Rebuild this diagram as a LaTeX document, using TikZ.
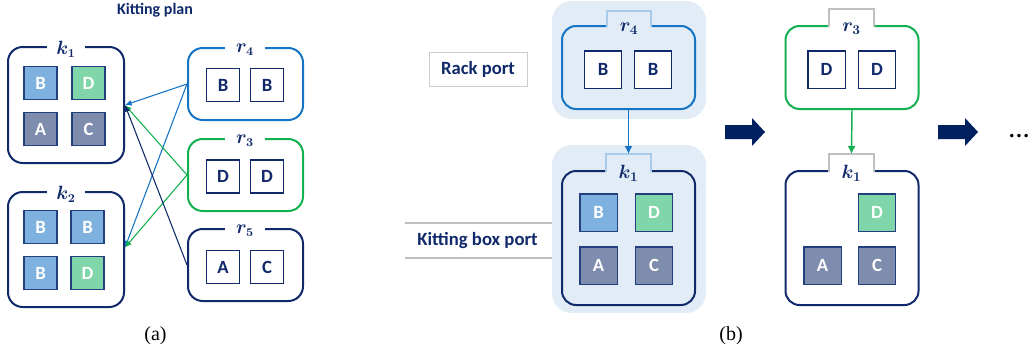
\documentclass[tikz,border=0pt]{standalone}
\usepackage{fontspec}
\setmainfont{Liberation Serif}
\newfontfamily\carlito{Carlito}
\usetikzlibrary{arrows.meta}
\definecolor{navy}{HTML}{10296A}
\definecolor{darknavy}{HTML}{002060}
\definecolor{rblue}{HTML}{1674C4}
\definecolor{rgreen}{HTML}{12B04E}
\definecolor{sqblue}{HTML}{7EB1DE}
\definecolor{sqgreen}{HTML}{80D6A8}
\definecolor{sqgray}{HTML}{7E8CAE}
\definecolor{sqedge}{HTML}{22407E}
\definecolor{bgblue}{HTML}{E2ECF6}
\definecolor{tabblue}{HTML}{A9CBEA}
\definecolor{tabgray}{HTML}{BFBFBF}
\begin{document}
\begin{tikzpicture}[x=0.75pt,y=-0.75pt,
  kbox/.style={draw=navy,line width=1.5pt,rounded corners=11pt,minimum width=87pt,minimum height=87pt,inner sep=0pt},
  rboxa/.style={line width=1.5pt,rounded corners=11pt,minimum width=86.25pt,minimum height=54pt,inner sep=0pt},
  rboxb/.style={line width=1.5pt,rounded corners=10.5pt,minimum width=99.75pt,minimum height=62.25pt,inner sep=0pt},
  kboxb/.style={draw=navy,line width=1.5pt,rounded corners=10.5pt,minimum width=99.75pt,minimum height=100.5pt,inner sep=0pt},
  sqfont/.style={font=\carlito\bfseries\fontsize{14}{16}\selectfont},
  csq/.style={sqfont,draw=sqedge,line width=1pt,text=white,minimum size=24.75pt,inner sep=0pt},
  wsq/.style={sqfont,draw=navy,line width=1pt,fill=white,text=navy,minimum size=24.75pt,inner sep=0pt},
  csqb/.style={csq,minimum size=28pt},
  wsqb/.style={wsq,minimum size=28pt},
  lbla/.style={fill=white,text=navy,inner xsep=7pt,inner ysep=1pt,font=\fontsize{13.5}{14}\selectfont\boldmath},
  lblb/.style={text=navy,inner sep=0pt,font=\fontsize{14}{15}\selectfont\boldmath},
  thin/.style={line width=0.8pt,-{Latex[length=5pt,width=4.5pt]}},
  down/.style={line width=1.1pt,-{Latex[length=6pt,width=6pt]}},
  title/.style={text=navy,font=\carlito\bfseries\fontsize{12}{14}\selectfont},
  port/.style={text=navy,font=\carlito\bfseries\fontsize{14}{16}\selectfont},
  captext/.style={font=\fontsize{15}{17}\selectfont},
  bigarrow/.style={fill=darknavy}
]
\useasboundingbox (0,0) rectangle (1029,354);

% ---------------- (a) ----------------
\node[title] (ktitle) at (155,10) {Kitting plan};

\node[kbox] (k1a) at (66,105) {};
\node[csq,fill=sqblue]  (k1aB) at (40.5,83) {B};
\node[csq,fill=sqgreen] (k1aD) at (88.5,83) {D};
\node[csq,fill=sqgray]  (k1aA) at (40.5,129) {A};
\node[csq,fill=sqgray]  (k1aC) at (88.5,129) {C};
\node[lbla] (k1alab) at (66,49) {$k_{1}$};

\node[kbox,minimum height=86.25pt] (k2a) at (66,249.5) {};
\node[csq,fill=sqblue]  (k2aB1) at (40.5,227) {B};
\node[csq,fill=sqblue]  (k2aB2) at (87.5,227) {B};
\node[csq,fill=sqblue]  (k2aB3) at (40.5,273) {B};
\node[csq,fill=sqgreen] (k2aD)  at (87.5,273) {D};
\node[lbla] (k2alab) at (66,194) {$k_{2}$};

\node[rboxa,draw=rblue] (r4a) at (245.5,84) {};
\node[wsq] (r4aB1) at (223,85) {B};
\node[wsq] (r4aB2) at (267,85) {B};
\node[lbla,inner xsep=8pt] (r4alab) at (245,50) {$r_{4}$};

\node[rboxa,draw=rgreen] (r3a) at (245.5,175) {};
\node[wsq] (r3aD1) at (223,176.5) {D};
\node[wsq] (r3aD2) at (267,176.5) {D};
\node[lbla,inner xsep=8pt] (r3alab) at (245,141) {$r_{3}$};

\node[rboxa,draw=navy] (r5a) at (245.5,265) {};
\node[wsq] (r5aA) at (223,267) {A};
\node[wsq] (r5aC) at (267,267) {C};
\node[lbla,inner xsep=8pt] (r5alab) at (245,231) {$r_{5}$};

\draw[thin,rblue]  (r4a.west) -- (k1a.east);
\draw[thin,rblue]  (r4a.west) -- ([yshift=1.5pt]k2a.east);
\draw[thin,rgreen] (r3a.west) -- (k1a.east);
\draw[thin,rgreen] (r3a.west) -- ([yshift=1.5pt]k2a.east);
\draw[thin,navy]   (r5a.west) -- (k1a.east);

\node[captext] (capa) at (155.5,336) {(a)};

% ---------------- (b) ----------------
\node[draw=tabgray!80,line width=0.6pt,fill=white,port,minimum width=73.5pt,minimum height=25.5pt] (rackport) at (478,69) {Rack port};
\draw[tabgray,line width=0.8pt] (405,223) -- (552,223);
\draw[tabgray,line width=0.8pt] (405,258) -- (552,258);
\node[port] (kbport) at (477.5,240.5) {Kitting box port};

\node[fill=bgblue,rounded corners=15pt,minimum width=115.5pt,minimum height=88.5pt] (bgU) at (629,60) {};
\node[fill=bgblue,rounded corners=15pt,minimum width=115.5pt,minimum height=126pt] (bgL) at (629,229) {};

% r4 (b)
\node[rboxb,draw=rblue] (r4b) at (628.5,67.5) {};
\fill[bgblue] (607,11) rectangle (651,27.5);
\draw[tabblue,line width=0.8pt] (607,26.5) -- (607,11) -- (651,11) -- (651,26.5);
\node[lblb] (r4blab) at (629,29) {$r_{4}$};
\node[wsqb] (r4bB1) at (603,69.5) {B};
\node[wsqb] (r4bB2) at (653,69.5) {B};

% k1 (b)
\node[kboxb] (k1b) at (628.5,238) {};
\fill[bgblue] (606,154) rectangle (651,172.5);
\draw[tabblue,line width=0.8pt] (606,171.5) -- (606,154) -- (651,154) -- (651,171.5);
\coordinate (k1btab) at (628.5,154);
\node[lblb] (k1blab) at (628.5,173) {$k_{1}$};
\node[csqb,fill=sqblue]  (k1bB) at (598.5,212.5) {B};
\node[csqb,fill=sqgreen] (k1bD) at (654,212.5) {D};
\node[csqb,fill=sqgray]  (k1bA) at (598.5,265.5) {A};
\node[csqb,fill=sqgray]  (k1bC) at (654,265.5) {C};
\draw[down,rblue] (r4b.south) -- (k1btab);

% big arrow 1
\fill[bigarrow] (725,125) -- (752,125) -- (752,118) -- (765,132) -- (752,146) -- (752,139) -- (725,139) -- cycle;

% r3 (b)
\node[rboxb,draw=rgreen] (r3b) at (852,67.5) {};
\fill[white] (829,9) rectangle (874,27.5);
\draw[tabgray,line width=0.8pt] (829,26.5) -- (829,9) -- (874,9) -- (874,26.5);
\node[lblb] (r3blab) at (851.5,29) {$r_{3}$};
\node[wsqb] (r3bD1) at (826.5,69.5) {D};
\node[wsqb] (r3bD2) at (877,69.5) {D};

% k1 (c)
\node[kboxb] (k1c) at (852,238) {};
\fill[white] (829,154) rectangle (874,172.5);
\draw[tabgray,line width=0.8pt] (829,171.5) -- (829,154) -- (874,154) -- (874,171.5);
\coordinate (k1ctab) at (851.5,154);
\node[lblb] (k1clab) at (851.5,173) {$k_{1}$};
\node[csqb,fill=sqgreen] (k1cD) at (877,212.5) {D};
\node[csqb,fill=sqgray]  (k1cA) at (822.5,265.5) {A};
\node[csqb,fill=sqgray]  (k1cC) at (877,265.5) {C};
\draw[down,rgreen] (r3b.south) -- (k1ctab);

% big arrow 2
\fill[bigarrow] (938,125) -- (965,125) -- (965,118) -- (978,132) -- (965,146) -- (965,139) -- (938,139) -- cycle;

\node[anchor=base west,inner sep=0pt,text=black,font=\bfseries\fontsize{16}{18}\selectfont] (dots) at (1008,137) {…};

\node[captext] (capb) at (731,336) {(b)};
\end{tikzpicture}
\end{document}
